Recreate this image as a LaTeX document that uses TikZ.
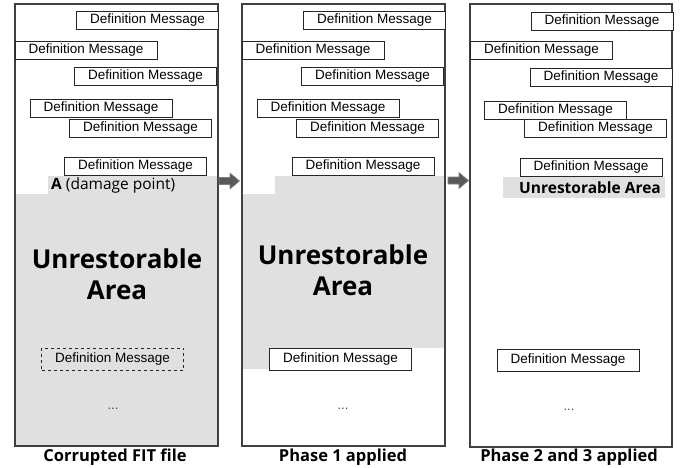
\documentclass[tikz,border=0pt]{standalone}
\usepackage{fontspec}
\setmainfont{Liberation Sans}
\newfontfamily\kfont{Open Sans}
\begin{document}
\begin{tikzpicture}[x=1pt,y=-1pt,
  defbox/.style={draw=black!85,fill=white,line width=0.8pt,inner sep=0pt,minimum width=142pt,minimum height=18pt,font=\fontsize{13.5}{15}\selectfont},
  dashbox/.style={defbox,dashed,minimum height=22pt,fill=none},
  panel/.style={draw=black!75,line width=1.1pt},
  grayfill/.style={fill=black!12},
  big/.style={font=\kfont\bfseries\fontsize{26}{31}\selectfont,align=center},
  captext/.style={font=\kfont\bfseries\fontsize{16.5}{18}\selectfont},
  dots/.style={font=\fontsize{13}{15}\selectfont,text=black!70},
  blockarrow/.style={fill=black!65,draw=black!50,line width=0.6pt,line join=round}
]
\useasboundingbox (0,0) rectangle (680,467);

% ---------- Panel 1 ----------
\fill[grayfill] (48,176) -- (218,176) -- (218,446) -- (15,446) -- (15,194) -- (48,194) -- cycle;
\draw[panel] (15,4) rectangle (218,446);
\node[defbox] (a1) at (147.5,20.5) {Definition Message};
\node[defbox] (a2) at (86,50) {Definition Message};
\node[defbox] (a3) at (145.5,76) {Definition Message};
\node[defbox] (a4) at (101,108.5) {Definition Message};
\node[defbox] (a5) at (140.5,128) {Definition Message};
\node[defbox] (a6) at (135.5,166.5) {Definition Message};
\node[anchor=west,inner sep=0pt,font=\kfont\fontsize{15.5}{17}\selectfont] (adp) at (51,185.5) {\textbf{A} (damage point)};
\node[big] (ua1) at (117,274) {Unrestorable\\Area};
\node[dashbox] (a7) at (112.5,359) {Definition Message};
\node[dots] (ad) at (113,409) {...};
\node[captext] (ac) at (115,457.5) {Corrupted FIT file};

% ---------- Panel 2 ----------
\fill[grayfill] (275,176) -- (445,176) -- (445,348) -- (269,348) -- (269,369) -- (242,369) -- (242,194) -- (275,194) -- cycle;
\draw[panel] (242,4) rectangle (445,446);
\node[defbox] (b1) at (374.5,20.5) {Definition Message};
\node[defbox] (b2) at (313,50) {Definition Message};
\node[defbox] (b3) at (372.5,76) {Definition Message};
\node[defbox] (b4) at (328,108.5) {Definition Message};
\node[defbox] (b5) at (367.5,128) {Definition Message};
\node[defbox] (b6) at (363,166.5) {Definition Message};
\node[big] (ua2) at (343,270) {Unrestorable\\Area};
\node[defbox,minimum height=22pt] (b7) at (340.5,359) {Definition Message};
\node[dots] (bd) at (343,409) {...};
\node[captext] (bc) at (343,457.5) {Phase 1 applied};

% ---------- Panel 3 ----------
\fill[grayfill] (503,177) rectangle (665,198);
\draw[panel] (470,4) rectangle (672,447);
\node[defbox] (c1) at (602,21.5) {Definition Message};
\node[defbox] (c2) at (541.5,50.5) {Definition Message};
\node[defbox] (c3) at (601,77.5) {Definition Message};
\node[defbox] (c4) at (555.5,110) {Definition Message};
\node[defbox] (c5) at (595.5,128.5) {Definition Message};
\node[defbox] (c6) at (591,167.5) {Definition Message};
\node[font=\kfont\bfseries\fontsize{15.5}{18}\selectfont] (ua3) at (590,188) {Unrestorable Area};
\node[defbox,minimum height=22pt] (c7) at (568,360) {Definition Message};
\node[dots] (cd) at (569,410) {...};
\node[captext] (cc) at (569,457.5) {Phase 2 and 3 applied};

% ---------- Arrows ----------
\coordinate (r1) at (219,181);
\coordinate (r2) at (448,180.5);
\draw[blockarrow] (r1) ++(0,-3.5) -- ++(11,0) -- ++(0,-4.5) -- ++(9.5,8) -- ++(-9.5,8) -- ++(0,-4.5) -- ++(-11,0) -- cycle;
\draw[blockarrow] (r2) ++(0,-3.5) -- ++(11,0) -- ++(0,-4.5) -- ++(9.5,8) -- ++(-9.5,8) -- ++(0,-4.5) -- ++(-11,0) -- cycle;
\end{tikzpicture}
\end{document}
